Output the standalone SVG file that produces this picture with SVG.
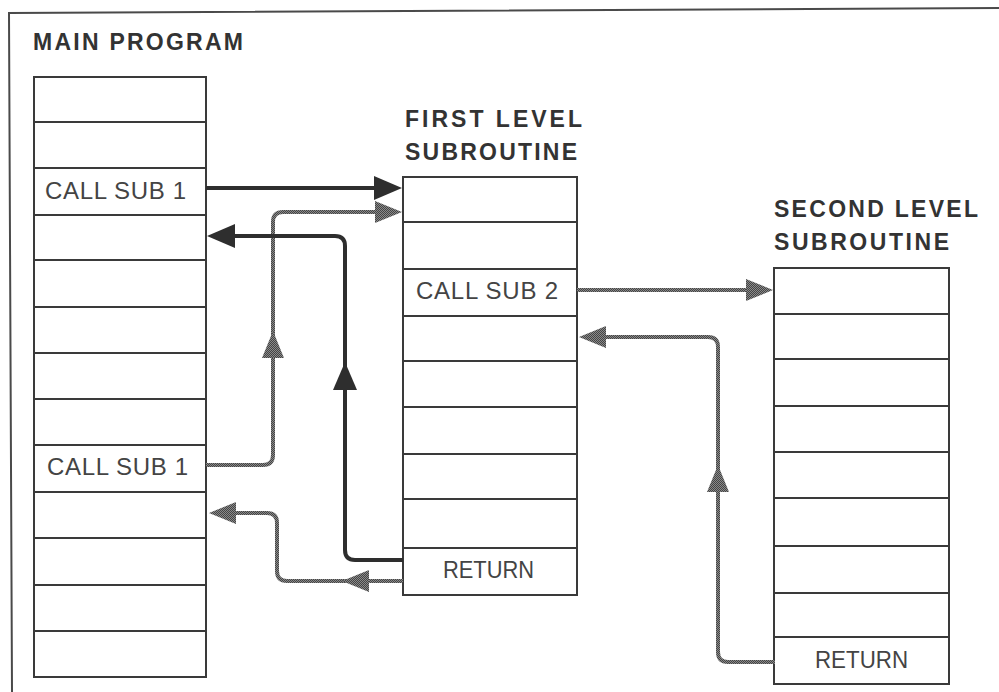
<svg xmlns="http://www.w3.org/2000/svg" width="999" height="692" viewBox="0 0 999 692">
<style>
.frame{fill:none;stroke:#4a4a4a;stroke-width:2}
.col{fill:#fff;stroke:#3a3a3a;stroke-width:2}
.row{stroke:#3a3a3a;stroke-width:2}
.title{font-family:"Liberation Sans",Arial,sans-serif;font-weight:bold;font-size:23px;fill:#333}
.lbl{font-family:"Liberation Sans",Arial,sans-serif;font-size:24px;fill:#444}
.dark{fill:none;stroke:#2e2e2e;stroke-width:4}
.gray{fill:none;stroke:url(#tex);stroke-width:4}
.ahd{fill:#2e2e2e}
.ahg{fill:url(#tex)}
</style>
<defs>
<pattern id="tex" patternUnits="userSpaceOnUse" width="2" height="2">
<rect width="2" height="2" fill="#8a8a8a"/>
<rect width="1" height="1" fill="#444"/>
<rect x="1" y="1" width="1" height="1" fill="#444"/>
</pattern>
<path id="ah" d="M0,0 L-28,-12 L-28,12 Z"/>
<path id="ahs" d="M0,0 L-27,-11 L-27,11 Z"/>
</defs>
<rect width="999" height="692" fill="#fff"/>
<path class="frame" d="M12,692 L9,13 L999,8"/>

<g id="main-program">
<text class="title" x="33" y="50" textLength="210" lengthAdjust="spacing">MAIN PROGRAM</text>
<rect class="col" x="34" y="77" width="172" height="600"/>
<path class="row" d="M34,122H206M34,168H206M34,215H206M34,260H206M34,307H206M34,353H206M34,399H206M34,445H206M34,492H206M34,538H206M34,585H206M34,631H206"/>
<text class="lbl" x="45" y="199" textLength="141" lengthAdjust="spacing">CALL SUB 1</text>
<text class="lbl" x="47" y="475" textLength="141" lengthAdjust="spacing">CALL SUB 1</text>
</g>

<g id="first-level">
<text class="title" x="405" y="127" textLength="177" lengthAdjust="spacing">FIRST LEVEL</text>
<text class="title" x="405" y="160" textLength="172" lengthAdjust="spacing">SUBROUTINE</text>
<rect class="col" x="403" y="177" width="174" height="418"/>
<path class="row" d="M403,222H577M403,269H577M403,316H577M403,361H577M403,407H577M403,454H577M403,499H577M403,548H577"/>
<text class="lbl" x="416" y="299" textLength="142" lengthAdjust="spacing">CALL SUB 2</text>
<text class="lbl" x="443" y="578" textLength="91" lengthAdjust="spacingAndGlyphs">RETURN</text>
</g>

<g id="second-level">
<text class="title" x="774" y="217" textLength="204" lengthAdjust="spacing">SECOND LEVEL</text>
<text class="title" x="774" y="250" textLength="175" lengthAdjust="spacing">SUBROUTINE</text>
<rect class="col" x="774" y="268" width="175" height="416"/>
<path class="row" d="M774,314H949M774,359H949M774,406H949M774,452H949M774,498H949M774,546H949M774,593H949M774,637H949"/>
<text class="lbl" x="815" y="668" textLength="93" lengthAdjust="spacingAndGlyphs">RETURN</text>
</g>

<g id="connectors">
<path class="dark" d="M206,188H376"/>
<use href="#ah" class="ahd" transform="translate(402,188)"/>
<path class="gray" d="M206,465H263Q273,465 273,455V222Q273,212 283,212H376"/>
<use href="#ahs" class="ahg" transform="translate(402,212)"/>
<use href="#ahs" class="ahg" transform="translate(273,331) rotate(-90)"/>
<path class="dark" d="M403,560H355Q345,560 345,550V246Q345,236 335,236H232"/>
<use href="#ah" class="ahd" transform="translate(207,236) rotate(180)"/>
<use href="#ah" class="ahd" transform="translate(345,362) rotate(-90)"/>
<path class="gray" d="M403,581H287Q277,581 277,571V523Q277,513 267,513H234"/>
<use href="#ahs" class="ahg" transform="translate(209,513) rotate(180)"/>
<use href="#ahs" class="ahg" transform="translate(342,581) rotate(180)"/>
<path class="gray" d="M577,290H748"/>
<use href="#ahs" class="ahg" transform="translate(773,290)"/>
<path class="gray" d="M775,662H728Q718,662 718,652V347Q718,337 708,337H604"/>
<use href="#ahs" class="ahg" transform="translate(579,337) rotate(180)"/>
<use href="#ahs" class="ahg" transform="translate(718,465) rotate(-90)"/>
</g>
</svg>
